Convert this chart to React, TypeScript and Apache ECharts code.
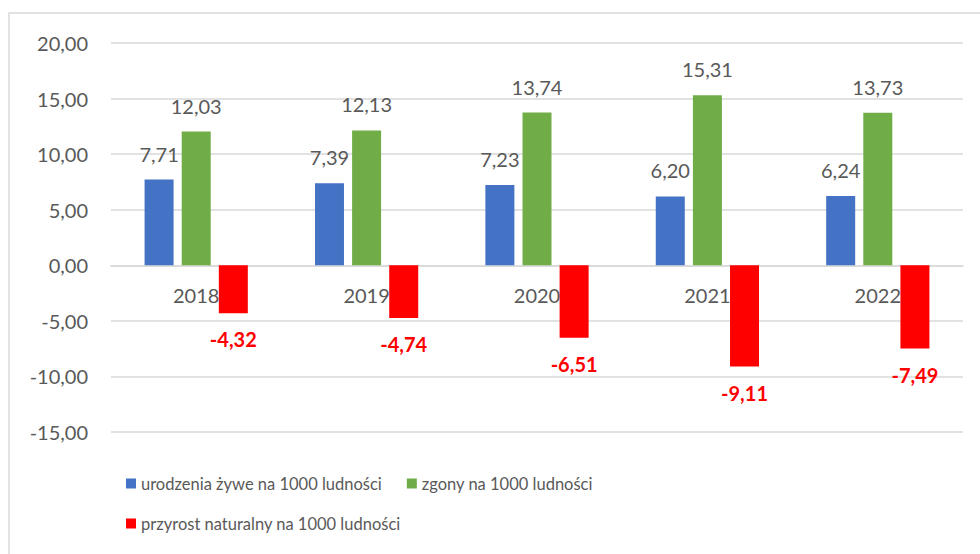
import React, { useEffect, useRef } from "react";
import * as echarts from "echarts";

const years = ["2018", "2019", "2020", "2021", "2022"];
const urodzenia = [7.71, 7.39, 7.23, 6.2, 6.24];
const zgony = [12.03, 12.13, 13.74, 15.31, 13.73];
const przyrost = [-4.32, -4.74, -6.51, -9.11, -7.49];
const seriesNames = [
  "urodzenia żywe na 1000 ludności",
  "zgony na 1000 ludności",
  "przyrost naturalny na 1000 ludności",
];

const FONT = "Lato, 'Open Sans', sans-serif";
const GRAY = "#595959";
const fmt = (v: number) => v.toFixed(2).replace(".", ",");

export default function App() {
  const ref = useRef<HTMLDivElement>(null);
  useEffect(() => {
    if (!ref.current) return;
    const chart = echarts.init(ref.current, null, { renderer: "svg" });
    const labelGray = {
      show: true,
      position: "top" as const,
      distance: 16,
      color: GRAY,
      fontSize: 20,
      fontFamily: FONT,
      formatter: (p: any) => fmt(p.value),
    };
    const legendText = { color: GRAY, fontSize: 16.5, fontFamily: FONT };
    chart.setOption({
      animation: false,
      backgroundColor: "#ffffff",
      textStyle: { fontFamily: FONT },
      graphic: [
        {
          type: "rect",
          shape: { x: 9, y: 13, width: 990, height: 560 },
          style: { fill: "none", stroke: "#d9d9d9", lineWidth: 1.5 },
          silent: true,
        },
      ],
      grid: { left: 111, right: 17, top: 43, bottom: 122, containLabel: false },
      legend: [
        {
          data: [seriesNames[0], seriesNames[1]],
          left: 121,
          top: 470,
          itemWidth: 10,
          itemHeight: 10,
          itemGap: 25,
          icon: "rect",
          textStyle: legendText,
        },
        {
          data: [seriesNames[2]],
          left: 121,
          top: 510,
          itemWidth: 10,
          itemHeight: 10,
          icon: "rect",
          textStyle: legendText,
        },
      ],
      xAxis: {
        type: "category",
        data: years,
        position: "bottom",
        offset: -166.7,
        axisTick: { show: false },
        axisLine: { show: true, onZero: false, lineStyle: { color: "#d9d9d9", width: 1.5 } },
        axisLabel: { color: GRAY, fontSize: 20, fontFamily: FONT, margin: 20 },
      },
      yAxis: {
        type: "value",
        min: -15,
        max: 20,
        interval: 5,
        axisLine: { show: false },
        axisTick: { show: false },
        splitLine: { lineStyle: { color: "#d9d9d9", width: 1.5 } },
        axisLabel: {
          color: GRAY,
          fontSize: 20,
          fontFamily: FONT,
          margin: 23,
          formatter: (v: number) => fmt(v),
        },
      },
      series: [
        {
          name: seriesNames[0],
          type: "bar",
          data: urodzenia,
          barWidth: 29,
          barGap: "28%",
          itemStyle: { color: "#4472C4" },
          label: labelGray,
        },
        {
          name: seriesNames[1],
          type: "bar",
          data: zgony,
          barWidth: 29,
          barGap: "28%",
          itemStyle: { color: "#70AD47" },
          label: labelGray,
        },
        {
          name: seriesNames[2],
          type: "bar",
          data: przyrost,
          barWidth: 29,
          barGap: "28%",
          itemStyle: { color: "#FF0000" },
          label: {
            show: true,
            position: "bottom",
            distance: 16,
            color: "#FF0000",
            fontSize: 20,
            fontWeight: "bold",
            fontFamily: FONT,
            formatter: (p: any) => fmt(p.value),
          },
        },
      ],
    });
    return () => chart.dispose();
  }, []);
  return (
    <div
      ref={ref}
      style={{ position: "fixed", left: 0, top: 0, width: 980, height: 554 }}
    />
  );
}
